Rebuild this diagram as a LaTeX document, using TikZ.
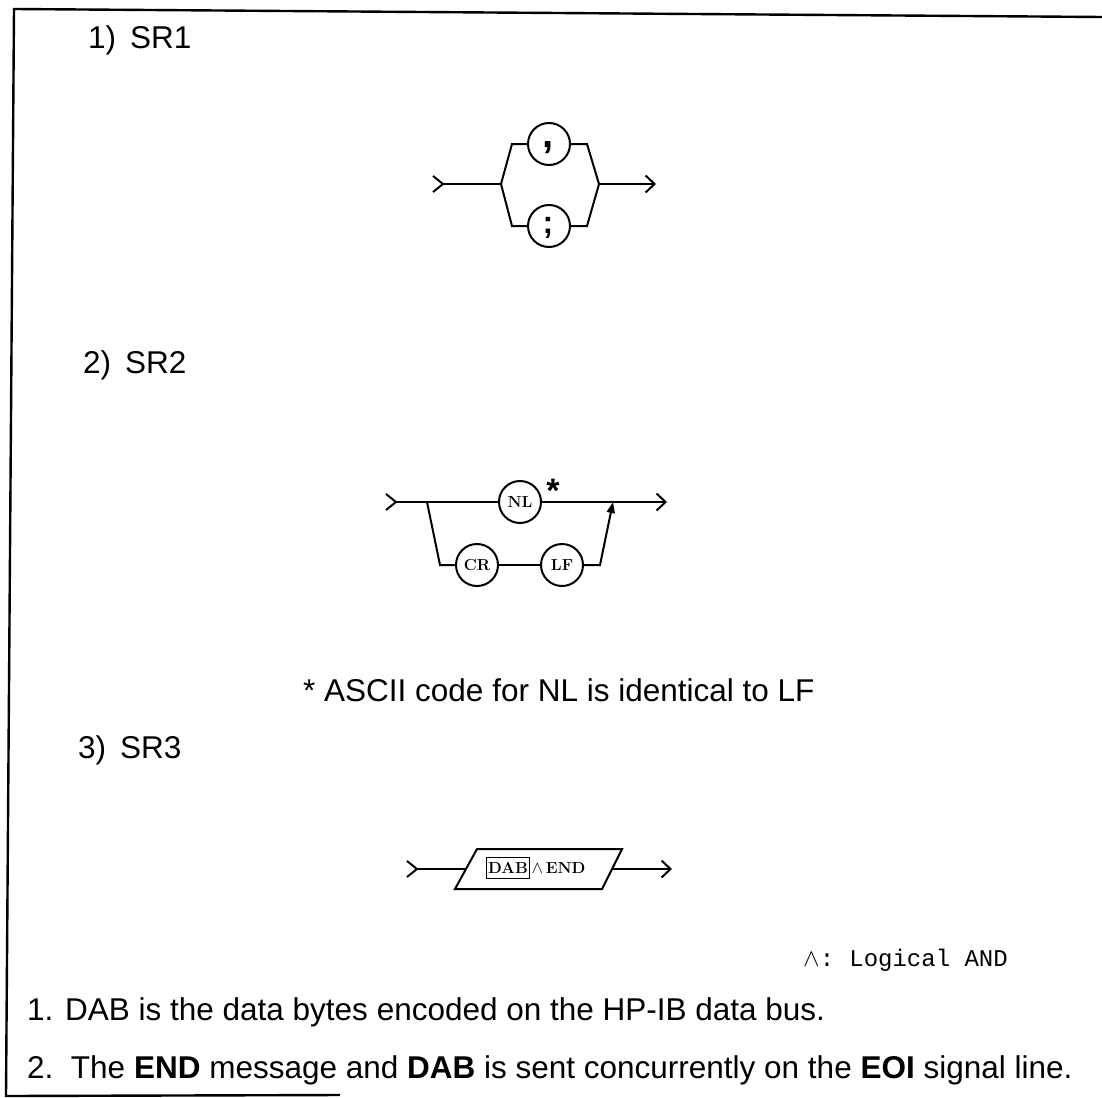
\documentclass[tikz,border=0pt]{standalone}
\usepackage{fontspec}
\usetikzlibrary{arrows.meta}
\newfontfamily\hsans{Liberation Sans}
\newfontfamily\hmono{Liberation Mono}
\begin{document}
\begin{tikzpicture}[x=1pt,y=-1pt,
  line/.style={line width=2pt},
  circ/.style={circle,draw,line width=2pt,minimum size=42pt,inner sep=0pt,font=\bfseries\fontsize{16}{16}\selectfont},
  lbl/.style={anchor=base west,inner sep=0pt,font=\hsans\fontsize{31.5}{36}\selectfont},
  barb/.style={-{Straight Barb[length=9pt,width=17pt]}},
  tri/.style={-{Triangle[length=11pt,width=8pt]}},
  frame/.style={line width=2.4pt}]
\useasboundingbox (0,0) rectangle (1102,1097);

% frame
\coordinate (ftl) at (14,9);
\coordinate (ftr) at (1102,17);
\coordinate (fbl) at (6,1096);
\coordinate (fbr) at (340,1095);
\draw[frame] (ftr) -- (ftl) -- (fbl) -- (fbr);

% labels
\node[lbl] (t1) at (88,49) {1)\ \,SR1};
\node[lbl] (t2) at (83,373) {2)\ \,SR2};
\node[lbl] (t3) at (78,758) {3)\ \,SR3};

% ---------- SR1 ----------
\coordinate (a1) at (433,176);
\coordinate (a1v) at (443,184);
\coordinate (a1b) at (433,192);
\coordinate (s1) at (501,184);
\coordinate (s1t) at (512,144);
\coordinate (s1b) at (512,226);
\coordinate (m1t) at (587,144);
\coordinate (m1b) at (587,226);
\coordinate (m1) at (599,184);
\coordinate (e1) at (656,184);
\node[circ] (comma) at (549,144) {};
\node[anchor=base,inner sep=0pt,font=\hsans\bfseries\fontsize{40}{40}\selectfont] (commat) at (548,147) {,};
\node[circ] (semi) at (549,226) {};
\node[anchor=base,inner sep=0pt,font=\hsans\bfseries\fontsize{32}{32}\selectfont] (semit) at (548,233) {;};
\draw[line] (a1) -- (a1v) -- (a1b);
\draw[line] (a1v) -- (s1);
\draw[line] (s1) -- (s1t) -- (comma);
\draw[line] (comma) -- (m1t) -- (m1);
\draw[line] (s1) -- (s1b) -- (semi);
\draw[line] (semi) -- (m1b) -- (m1);
\draw[line,barb] (m1) -- (e1);

% ---------- SR2 ----------
\coordinate (a2) at (386,494);
\coordinate (a2v) at (396,502);
\coordinate (a2b) at (386,510);
\coordinate (s2) at (427,502);
\coordinate (s2b) at (440,565);
\coordinate (m2b) at (600,565);
\coordinate (m2) at (613,502);
\coordinate (e2) at (667,502);
\node[circ] (nl) at (520,502) {NL};
\node[circ] (cr) at (477,565) {CR};
\node[circ] (lf) at (562,565) {LF};
\node[anchor=base,inner sep=0pt,font=\hsans\bfseries\fontsize{34}{34}\selectfont] (ast) at (553,502) {*};
\draw[line] (a2) -- (a2v) -- (a2b);
\draw[line] (a2v) -- (s2) -- (nl);
\draw[line] (nl) -- (m2);
\draw[line,barb] (m2) -- (e2);
\draw[line] (s2) -- (s2b) -- (cr);
\draw[line] (cr) -- (lf);
\draw[line,tri] (lf) -- (m2b) -- (m2);

\node[lbl] (ascii) at (303,701) {* ASCII code for NL is identical to LF};

% ---------- SR3 ----------
\coordinate (a3) at (407,861);
\coordinate (a3v) at (417,869);
\coordinate (a3b) at (407,877);
\coordinate (ptl) at (477,849);
\coordinate (ptr) at (622,849);
\coordinate (pbr) at (602,889);
\coordinate (pbl) at (455,889);
\coordinate (pin) at (466,869);
\coordinate (pout) at (612,869);
\coordinate (e3) at (672,869);
\draw[line] (ptl) -- (ptr) -- (pbr) -- (pbl) -- cycle;
\node[draw,line width=1.2pt,inner xsep=2pt,inner ysep=5pt,font=\fontsize{16}{16}\selectfont\bfseries] (dab) at (508,868) {DAB};
\node[anchor=west,inner sep=1pt,font=\fontsize{16}{16}\selectfont\bfseries] (endt) at (dab.east) {$\wedge$\,END};
\draw[line] (a3) -- (a3v) -- (a3b);
\draw[line] (a3v) -- (pin);
\draw[line,barb] (pout) -- (e3);

\node[anchor=base west,inner sep=0pt,font=\hmono\fontsize{24}{24}\selectfont] (and) at (803,966) {$\wedge$:\hspace{-4pt} Logical AND};

% notes
\node[lbl] (n1) at (27,1020) {1. DAB is the data bytes encoded on the HP-IB data bus.};
\node[lbl] (n2) at (27,1078) {2.\ \ The \textbf{END} message and \textbf{DAB} is sent concurrently on the \textbf{EOI} signal line.};
\end{tikzpicture}
\end{document}
